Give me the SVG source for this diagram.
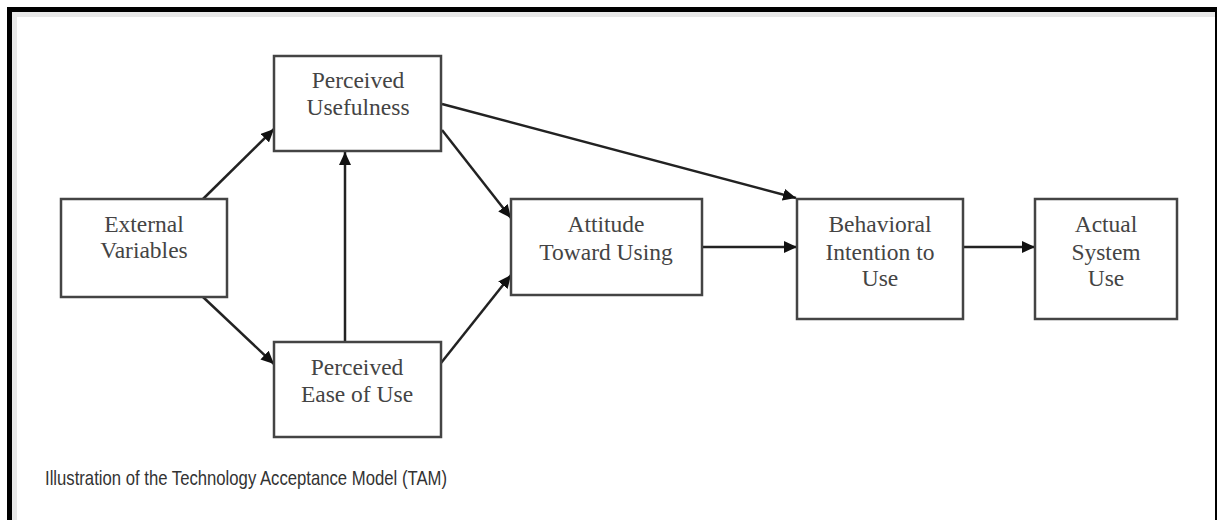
<svg xmlns="http://www.w3.org/2000/svg" width="1217" height="520" viewBox="0 0 1217 520">
<defs>
<marker id="ah" markerUnits="userSpaceOnUse" markerWidth="14" markerHeight="12" refX="13" refY="6" orient="auto">
<path d="M0,0 L13,6 L0,12 z" fill="#111"/>
</marker>
<style>
.box{fill:#fff;stroke:#444;stroke-width:2.5}
.t{font-family:"Liberation Serif","Times New Roman",serif;font-size:23.5px;fill:#444;text-anchor:middle}
.c{stroke:#222;stroke-width:2.5;fill:none}
.cap{font-family:"Liberation Sans",Arial,sans-serif;font-size:21px;fill:#333}
</style>
</defs>
<rect x="0" y="0" width="1217" height="520" fill="#fff"/>
<g id="frame">
<rect x="12" y="12" width="5" height="508" fill="#e8e8e8"/>
<rect x="12" y="12" width="1203" height="5" fill="#e8e8e8"/>
<rect x="7" y="7" width="5" height="513" fill="#000"/>
<rect x="7" y="7" width="1210" height="5" fill="#000"/>
<rect x="1215" y="7" width="2" height="513" fill="#000"/>
</g>
<g id="connectors">
<line class="c" x1="203" y1="199" x2="274" y2="129" marker-end="url(#ah)"/>
<line class="c" x1="203" y1="297" x2="274" y2="364" marker-end="url(#ah)"/>
<line class="c" x1="345" y1="342" x2="345" y2="152" marker-end="url(#ah)"/>
<line class="c" x1="442" y1="130" x2="511" y2="218" marker-end="url(#ah)"/>
<line class="c" x1="441" y1="363" x2="511" y2="275" marker-end="url(#ah)"/>
<line class="c" x1="442" y1="104" x2="796" y2="198" marker-end="url(#ah)"/>
<line class="c" x1="702" y1="247" x2="797" y2="247" marker-end="url(#ah)"/>
<line class="c" x1="963" y1="247" x2="1035" y2="247" marker-end="url(#ah)"/>
</g>
<g id="pu">
<rect class="box" x="274" y="56" width="167" height="95"/>
<text class="t" x="358" y="88">Perceived</text>
<text class="t" x="358" y="115">Usefulness</text>
</g>
<g id="ev">
<rect class="box" x="61" y="199" width="166" height="98"/>
<text class="t" x="144" y="232">External</text>
<text class="t" x="144" y="258">Variables</text>
</g>
<g id="peou">
<rect class="box" x="274" y="342" width="167" height="95"/>
<text class="t" x="357" y="375">Perceived</text>
<text class="t" x="357" y="402">Ease of Use</text>
</g>
<g id="att">
<rect class="box" x="511" y="199" width="191" height="96"/>
<text class="t" x="606" y="232">Attitude</text>
<text class="t" x="606" y="260">Toward Using</text>
</g>
<g id="bi">
<rect class="box" x="797" y="199" width="166" height="120"/>
<text class="t" x="880" y="232">Behavioral</text>
<text class="t" x="880" y="260">Intention to</text>
<text class="t" x="880" y="286">Use</text>
</g>
<g id="asu">
<rect class="box" x="1035" y="199" width="142" height="120"/>
<text class="t" x="1106" y="232">Actual</text>
<text class="t" x="1106" y="260">System</text>
<text class="t" x="1106" y="286">Use</text>
</g>
<text class="cap" x="45" y="485" textLength="402" lengthAdjust="spacingAndGlyphs">Illustration of the Technology Acceptance Model (TAM)</text>
</svg>
